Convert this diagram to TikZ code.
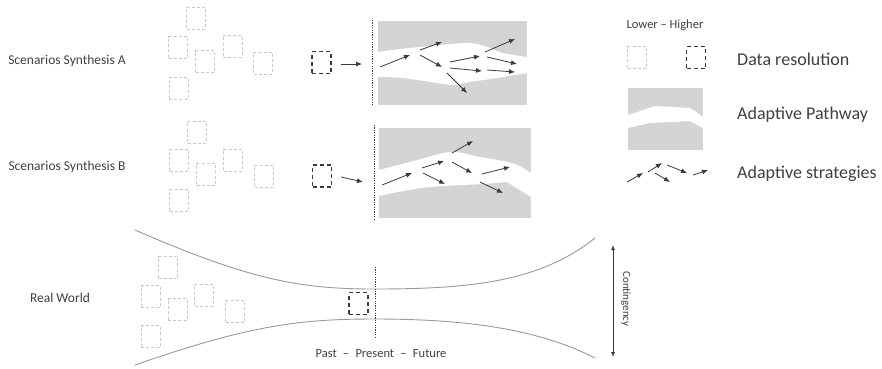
\documentclass[tikz,border=0pt]{standalone}
\usepackage{fontspec}
\setmainfont{Carlito}
\usetikzlibrary{arrows.meta}
\definecolor{txt}{HTML}{404040}
\definecolor{lgt}{HTML}{C8C8C8}
\definecolor{dk}{HTML}{3A3A3A}
\definecolor{pw}{HTML}{D4D4D4}
\definecolor{crv}{HTML}{9A9A9A}
\tikzset{
  lightbox/.style={draw=lgt, line width=0.9pt, dash pattern=on 3pt off 2.2pt, minimum width=19pt, minimum height=22pt, inner sep=0pt},
  darkbox/.style={draw=dk, line width=1.4pt, dash pattern=on 4pt off 3pt, minimum width=19pt, minimum height=22pt, inner sep=0pt},
  strat/.style={draw=dk, line width=0.8pt, -{Latex[length=6pt,width=5pt]}},
  lbl/.style={text=txt, font=\fontsize{13.5}{15}\selectfont, inner sep=0pt},
  leg/.style={text=txt, font=\fontsize{18}{20}\selectfont, inner sep=0pt, anchor=west},
  vdash/.style={draw=dk, line width=0.6pt, dash pattern=on 1.2pt off 1.2pt},
  bound/.style={draw=crv, line width=0.9pt}
}
\begin{document}
\begin{tikzpicture}[x=1pt,y=-1pt]
\path[use as bounding box, fill=white] (0,0) rectangle (882,368);

% ---------- labels left
\node[lbl] (lA) at (67,61) {Scenarios Synthesis A};
\node[lbl] (lB) at (67,167) {Scenarios Synthesis B};
\node[lbl] (lR) at (60,298) {Real World};

% ---------- group A light boxes
\node[lightbox] (a1) at (196,18) {};
\node[lightbox] (a2) at (178,47.5) {};
\node[lightbox] (a3) at (205,61.5) {};
\node[lightbox] (a4) at (232.5,46) {};
\node[lightbox] (a5) at (263,63) {};
\node[lightbox] (a6) at (178.5,88.5) {};
% group B light boxes
\node[lightbox] (b1) at (197,132) {};
\node[lightbox] (b2) at (179,160.5) {};
\node[lightbox] (b3) at (206,174.5) {};
\node[lightbox] (b4) at (233,160) {};
\node[lightbox] (b5) at (264,176) {};
\node[lightbox] (b6) at (179,200.5) {};
% real world light boxes
\node[lightbox] (r1) at (168,267.5) {};
\node[lightbox] (r2) at (150.5,296.5) {};
\node[lightbox] (r3) at (177.5,309.5) {};
\node[lightbox] (r4) at (204,295) {};
\node[lightbox] (r5) at (235,311.5) {};
\node[lightbox] (r6) at (150.5,336.5) {};

% dark boxes
\node[darkbox] (dA) at (321.5,62.5) {};
\node[darkbox] (dB) at (322,176) {};
\node[darkbox] (dR) at (358.5,303.5) {};

% arrows from dark boxes
\coordinate (eA) at (362,64);
\coordinate (eB) at (363,182);
\draw[strat] (dA.east)++(9,1.5) -- (eA);
\draw[strat] (dB.east)++(9,1) -- (eB);

% ---------- pathway A
\fill[pw] (378,21) rectangle (527,105);
\fill[white] plot[smooth] coordinates {(378,52) (400,49) (420,47) (450,44) (470,43) (485,46) (503,53) (527,57)}
  -- plot[smooth] coordinates {(527,73) (490,79) (470,82) (453,85) (437,83) (403,78) (378,77)} -- cycle;
\draw[vdash] (372,20) -- (372,106);
\draw[strat] (380,67) -- (410,55);
\draw[strat] (420,50) -- (442,42);
\draw[strat] (420,55) -- (442,67);
\draw[strat] (450,62) -- (480,56);
\draw[strat] (450,68) -- (482,71);
\draw[strat] (447,73) -- (467,93);
\draw[strat] (485,52) -- (515,39);
\draw[strat] (487,57) -- (517,64);
\draw[strat] (487,70) -- (515,72);

% ---------- pathway B
\fill[pw] (379,128) rectangle (531,218);
\fill[white] plot[smooth] coordinates {(379,170) (410,162) (450,152) (480,157) (508,162) (520,166)} -- (531,173)
  -- (531,197) -- plot[smooth] coordinates {(507,182) (483,184) (430,187) (403,191) (379,196)} -- cycle;
\draw[vdash] (374,125) -- (374,221);
\draw[strat] (382,185) -- (412,173);
\draw[strat] (422,168) -- (444,161);
\draw[strat] (423,173) -- (445,184);
\draw[strat] (452,153) -- (473,141);
\draw[strat] (452,162) -- (472,173);
\draw[strat] (482,174) -- (510,167);
\draw[strat] (480,182) -- (503,193);

% ---------- real world funnel
\draw[bound] (135,230) .. controls (250,280) and (300,289) .. (375,289) .. controls (470,289) and (540,282) .. (595,238);
\draw[bound] (135,365) .. controls (250,325) and (300,319) .. (375,319) .. controls (470,319) and (540,330) .. (595,358);
\draw[vdash] (375,267) -- (375,337);
\node[lbl, font=\fontsize{12.5}{14}\selectfont] (pp) at (381,354) {Past \;–\; Present \;–\; Future};
\coordinate (ct) at (613,245);
\coordinate (cb) at (613,357);
\draw[draw=dk, line width=0.8pt, {Latex[length=5pt,width=4pt]}-{Latex[length=5pt,width=4pt]}] (ct) -- (cb);
\node[lbl, rotate=-90, font=\fontsize{11}{12}\selectfont] (cont) at (626,299) {Contingency};

% ---------- legend
\node[lbl, font=\fontsize{12.5}{14}\selectfont] (lh) at (665,25) {Lower – Higher};
\node[lightbox] (ll) at (637,57.5) {};
\node[darkbox] (ld) at (696,57.5) {};
\node[leg] (t1) at (737,59) {Data resolution};
\fill[pw] (628,88) rectangle (703,150);
\fill[white] (628,115) -- (655,106) -- (690,108) -- (698,113) -- (703,117) -- (703,128) -- (690,121) -- (650,123) -- (628,128) -- cycle;
\node[leg] (t2) at (737,115) {Adaptive Pathway};
\draw[strat] (627,182) -- (643,173);
\draw[strat] (648,172) -- (662,163);
\draw[strat] (655,173) -- (670,182);
\draw[strat] (667,165) -- (687,173);
\draw[strat] (693,175) -- (708,170);
\node[leg] (t3) at (737,174) {Adaptive strategies};
\end{tikzpicture}
\end{document}
